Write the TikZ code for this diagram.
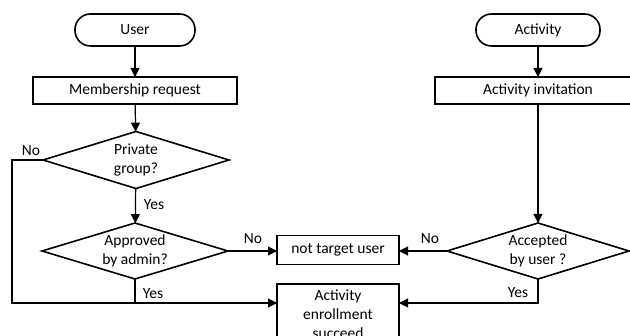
\documentclass[tikz,border=0pt]{standalone}
\usepackage{fontspec}
\setmainfont{Carlito}
\usetikzlibrary{shapes.geometric,arrows.meta,calc}
\begin{document}
\begin{tikzpicture}[x=1pt,y=-1pt,
  every node/.style={font=\fontsize{15.5}{19}\selectfont},
  term/.style={draw,line width=1.6pt,rounded corners=15.5pt,minimum height=32pt,inner sep=0pt,outer sep=0pt},
  procbox/.style={draw,line width=1.6pt,minimum height=27pt,inner sep=0pt,outer sep=0pt,align=center},
  decide/.style={draw,diamond,line width=1.6pt,aspect=3.3,inner sep=0pt,outer sep=0pt,align=center},
  conn/.style={line width=1.2pt},
  arr/.style={conn,-{Triangle[length=9pt,width=9pt]}},
  lbl/.style={inner sep=0pt}
]
\useasboundingbox (0,0) rectangle (630,336);
\node[term,minimum width=120pt] (user) at (135,30) {User};
\node[procbox,minimum width=204pt] (memb) at (135,90.5) {Membership request};
\node[decide,minimum width=186pt,minimum height=57pt] (priv) at (136,160) {Private\\group?};
\node[decide,minimum width=186pt,minimum height=56pt] (appr) at (135,251) {Approved\\by admin?};
\node[procbox,minimum width=122pt,minimum height=29pt] (ntu) at (338,250) {not target user};
\node[procbox,minimum width=122pt,minimum height=60pt] (enr) at (338,314) {Activity\\enrollment\\succeed};
\node[term,minimum width=124pt] (act) at (538,30) {Activity};
\node[procbox,minimum width=206pt] (inv) at (538,90.5) {Activity invitation};
\node[decide,minimum width=182pt,minimum height=56pt] (acc) at (538,251) {Accepted\\by user ?};
\coordinate (lc) at (12,303);
\coordinate (rc) at (538,303);
\draw[arr] (user) -- (memb);
\draw[arr] (memb) -- (priv);
\draw[arr] (priv) -- (appr);
\draw[arr] (priv.west) -| (lc) -- (enr.west |- lc);
\draw[conn] (appr.south) -- (appr.south |- lc);
\draw[arr] (appr.east) -- (appr.east -| ntu.west);
\draw[arr] (act) -- (inv);
\draw[arr] (inv) -- (acc);
\draw[arr] (acc.west) -- (acc.west -| ntu.east);
\draw[arr] (acc.south) -- (rc) -- (enr.east |- rc);
\node[lbl] (n1) at (31,151) {No};
\node[lbl] (y1) at (154,205) {Yes};
\node[lbl] (n2) at (253,239) {No};
\node[lbl] (y2) at (153,294) {Yes};
\node[lbl] (n3) at (430,239) {No};
\node[lbl] (y3) at (518,293) {Yes};
\end{tikzpicture}
\end{document}
